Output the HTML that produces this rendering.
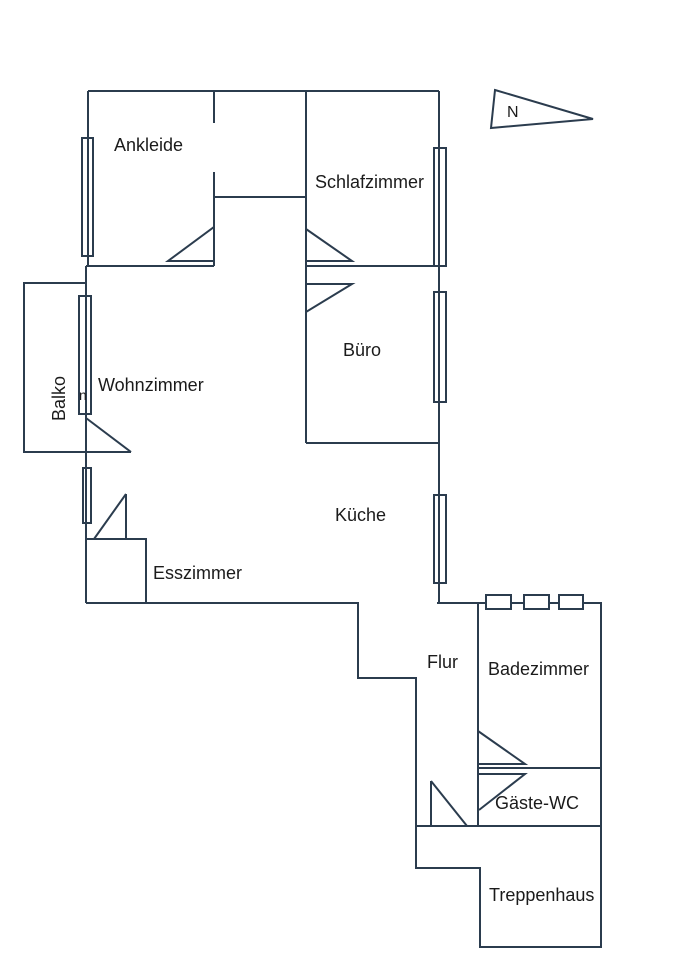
<!DOCTYPE html>
<html>
<head>
<meta charset="utf-8">
<style>
  html, body { margin:0; padding:0; background:#fff; }
  svg { display:block; }
  text { font-family: "Liberation Sans", "DejaVu Sans", sans-serif; font-size:18px; fill:#1b1b1b; }
</style>
</head>
<body>
<svg width="679" height="960" viewBox="0 0 679 960" xmlns="http://www.w3.org/2000/svg">
  <g fill="none" stroke="#2b3c4e" stroke-width="2" stroke-linejoin="miter">
    <!-- top wall -->
    <path d="M88 91 H439"/>
    <!-- Ankleide left wall -->
    <path d="M88 91 V266"/>
    <rect x="82" y="138" width="11" height="118"/>
    <!-- inner wall x=214 -->
    <path d="M214 91 V123"/>
    <path d="M214 172 V266"/>
    <path d="M214 197 H306"/>
    <!-- Ankleide door -->
    <polygon points="214,227 214,261 168,261"/>
    <!-- Wohnzimmer top wall -->
    <path d="M86 266 H214"/>
    <!-- Schlafzimmer / Büro left wall -->
    <path d="M306 91 V443"/>
    <polygon points="306,229 352,261 306,261"/>
    <path d="M306 266 H446"/>
    <!-- right wall -->
    <path d="M439 91 V603"/>
    <rect x="434" y="148" width="12" height="118"/>
    <rect x="434" y="292" width="12" height="110"/>
    <rect x="434" y="495" width="12" height="88"/>
    <!-- Büro door & bottom -->
    <polygon points="306,284 352,284 306,312"/>
    <path d="M306 443 H439"/>
    <!-- Wohnzimmer left wall -->
    <path d="M86 266 V603"/>
    <!-- Balkon -->
    <path d="M86 283 H24 V452 H131"/>
    <rect x="79" y="296" width="12" height="118"/>
    <path d="M86 418 L131 452"/>
    <!-- Esszimmer window/door/box -->
    <rect x="83" y="468" width="8" height="55"/>
    <path d="M126 494 V539"/>
    <path d="M126 494 L94 539"/>
    <path d="M86 539 H146 V603"/>
    <!-- outer bottom outline -->
    <path d="M86 603 H358 V678 H416 V868 H480 V947 H601 V603 H437"/>
    <!-- Badezimmer -->
    <path d="M478 603 V826"/>
    <rect x="486" y="595" width="25" height="14" fill="#fff"/>
    <rect x="524" y="595" width="25" height="14" fill="#fff"/>
    <rect x="559" y="595" width="24" height="14" fill="#fff"/>
    <polygon points="478,731 525,764 478,764"/>
    <path d="M478 768 H601"/>
    <!-- Gäste-WC door -->
    <path d="M478 774 H525 L479 810"/>
    <path d="M416 826 H601"/>
    <!-- Flur door -->
    <path d="M431 781 V826"/>
    <path d="M431 781 L467 826"/>
    <!-- North arrow -->
    <polygon points="495,90 593,119 491,128"/>
  </g>
  <text x="114" y="151">Ankleide</text>
  <text x="315" y="188">Schlafzimmer</text>
  <text x="343" y="356">Büro</text>
  <text x="98" y="391">Wohnzimmer</text>
  <text x="335" y="521">Küche</text>
  <text x="153" y="579">Esszimmer</text>
  <text x="427" y="668">Flur</text>
  <text x="488" y="675">Badezimmer</text>
  <text x="495" y="809">Gäste-WC</text>
  <text x="489" y="901">Treppenhaus</text>
  <text transform="translate(65,421) rotate(-90)">Balko</text>
  <text x="79" y="400" style="font-size:14px">n</text>
  <text x="507" y="117" style="font-size:16px">N</text>
</svg>
</body>
</html>
